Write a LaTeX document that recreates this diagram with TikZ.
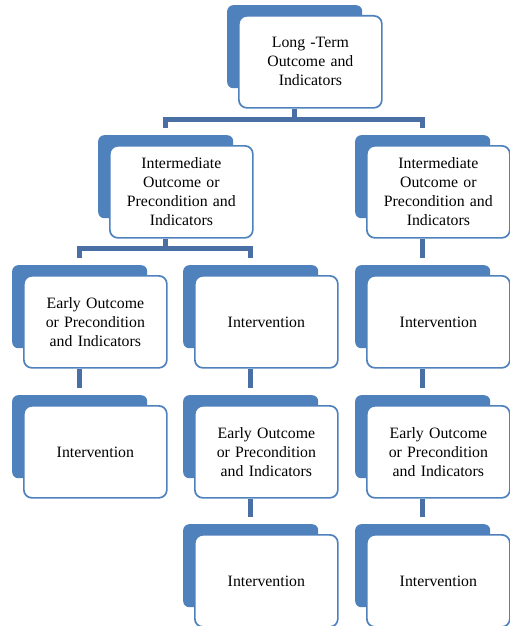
\documentclass[tikz,border=0pt]{standalone}
\usepackage{fontspec}
\setmainfont{Liberation Serif}
\usepackage{xcolor}
\usepackage{tikz}
\definecolor{cardblue}{HTML}{4F81BD}
\definecolor{linkblue}{HTML}{4A6FA5}
\tikzset{backcard/.style={rectangle, fill=cardblue, rounded corners=6pt,
    minimum width=135pt, minimum height=83pt, inner sep=0pt, anchor=north west},
  frontcard/.style={rectangle, draw=cardblue, line width=1.7pt, fill=white,
    rounded corners=8pt, minimum width=143pt, minimum height=92pt, inner sep=0pt,
    text width=140pt, align=center, anchor=north west,
    font=\fontsize{15.8}{19}\selectfont},
  link/.style={draw=linkblue, line width=5pt}}
\newcommand{\card}[4]{%
  \node[backcard] (#1-b) at (#2pt,-#3pt) {};
  \node[frontcard] (#1) at ([shift={(11pt,-10pt)}]#1-b.north west) {#4};}

\begin{document}
\begin{tikzpicture}
  \useasboundingbox (0,0) rectangle (509pt,-626pt);
  \card{lt}{227}{5}{Long -Term\\Outcome and\\Indicators}
  \card{ima}{98}{135}{Intermediate\\Outcome or\\Precondition and\\Indicators}
  \card{imb}{355}{135}{Intermediate\\Outcome or\\Precondition and\\Indicators}
  \card{eoa}{12}{265}{Early Outcome\\or Precondition\\and Indicators}
  \card{inb}{183}{265}{Intervention}
  \card{inc}{355}{265}{Intervention}
  \card{ina}{12}{395}{Intervention}
  \card{eob}{183}{395}{Early Outcome\\or Precondition\\and Indicators}
  \card{eoc}{355}{395}{Early Outcome\\or Precondition\\and Indicators}
  \card{inbl}{183}{524}{Intervention}
  \card{incl}{355}{524}{Intervention}
  % tree links
  \draw[link] (lt-b.south |- lt.south) -- ++(0,-11pt) coordinate (j1);
  \draw[link] ([yshift=7pt]ima-b.north) |- (j1) -| ([yshift=7pt]imb-b.north);
  \draw[link] (ima-b.south |- ima.south) -- ++(0,-10pt) coordinate (j2);
  \draw[link] ([yshift=7pt]eoa-b.north) |- (j2) -| ([yshift=7pt]inb-b.north);
  \draw[link] (imb-b.south |- imb.south) -- ([yshift=7pt]inc-b.north);
  % chains
  \draw[link] (eoa-b.south |- eoa.south) -- ([yshift=7pt]ina-b.north);
  \draw[link] (inb-b.south |- inb.south) -- ([yshift=7pt]eob-b.north);
  \draw[link] (inc-b.south |- inc.south) -- ([yshift=7pt]eoc-b.north);
  \draw[link] (eob-b.south |- eob.south) -- ([yshift=7pt]inbl-b.north);
  \draw[link] (eoc-b.south |- eoc.south) -- ([yshift=7pt]incl-b.north);
\end{tikzpicture}
\end{document}
